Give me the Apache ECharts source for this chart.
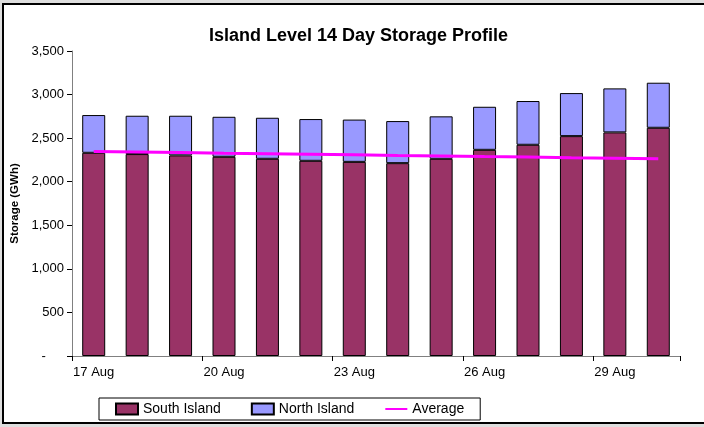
<!DOCTYPE html>
<html>
<head>
<meta charset="utf-8">
<script src="https://cdn.jsdelivr.net/npm/echarts@6/dist/echarts.min.js"></script>
<style>
  html, body { margin: 0; padding: 0; background: #dedede; }
  .frame {
    position: absolute; left: 2px; top: 3px; width: 730px; height: 417px;
    border: 2px solid #000; border-right: none; background: #fff;
  }
  #chart { position: absolute; left: 0; top: 0; width: 704px; height: 427px; }
</style>
</head>
<body>
<div class="frame"></div>
<div id="chart"></div>
<script>
// 14 day storage, GWh
var days = ['17 Aug', '18 Aug', '19 Aug', '20 Aug', '21 Aug', '22 Aug', '23 Aug',
  '24 Aug', '25 Aug', '26 Aug', '27 Aug', '28 Aug', '29 Aug', '30 Aug']
var southIsland = [2332, 2317, 2302, 2286, 2263, 2240, 2228, 2213, 2263, 2366, 2424, 2523, 2566, 2619]
var northIsland = [433, 440, 455, 459, 471, 479, 485, 483, 487, 494, 502, 494, 505, 517]
var average = [2348, 2341, 2335, 2328, 2322, 2315, 2309, 2302, 2296, 2289, 2283, 2276, 2270, 2263]

var chart = echarts.init(document.getElementById('chart'))

chart.setOption({
  animation: false,
  textStyle: { fontFamily: 'Liberation Sans, Arial, sans-serif' },
  title: {
    text: 'Island Level 14 Day Storage Profile',
    left: 204,
    top: 22,
    textStyle: { fontSize: 18, fontWeight: 'bold', color: '#000' }
  },
  grid: {
    left: 72,
    right: 24,
    top: 51,
    bottom: 71
  },
  legend: {
    data: [
      { name: 'South Island', icon: 'rect' },
      { name: 'North Island', icon: 'rect' },
      { name: 'Average', itemStyle: { opacity: 0 } }
    ],
    left: 99,
    top: 398,
    padding: [4, 16, 4, 16],
    itemGap: 30,
    itemWidth: 22,
    itemHeight: 11,
    borderColor: '#000',
    borderWidth: 1,
    textStyle: { fontSize: 14, color: '#000' }
  },
  xAxis: {
    type: 'category',
    data: days,
    axisLine: { lineStyle: { color: '#808080' } },
    axisTick: { show: true, alignWithLabel: false, interval: 2, length: 5, lineStyle: { color: '#000' } },
    axisLabel: { interval: 2, fontSize: 13, color: '#000', margin: 10 }
  },
  yAxis: {
    type: 'value',
    min: 0,
    max: 3500,
    interval: 500,
    name: 'Storage (GWh)',
    nameLocation: 'middle',
    nameGap: 48,
    nameTextStyle: { fontSize: 11.5, fontWeight: 'bold', color: '#000' },
    axisLine: { show: true, lineStyle: { color: '#808080' } },
    axisTick: { show: true, length: 5, lineStyle: { color: '#000' } },
    splitLine: { show: false },
    axisLabel: {
      fontSize: 13,
      color: '#000',
      margin: 8,
      formatter: function (v) {
        return v === 0 ? '-     ' : v.toLocaleString('en-US')
      }
    }
  },
  series: [{
    name: 'South Island',
    type: 'bar',
    stack: 'storage',
    barWidth: 23,
    itemStyle: { color: '#993366', borderColor: '#000', borderWidth: 1 },
    data: southIsland
  }, {
    name: 'North Island',
    type: 'bar',
    stack: 'storage',
    barWidth: 23,
    itemStyle: { color: '#9999FF', borderColor: '#000', borderWidth: 1 },
    data: northIsland
  }, {
    name: 'Average',
    type: 'line',
    symbol: 'none',
    z: 5,
    lineStyle: { color: '#FF00FF', width: 3 },
    itemStyle: { color: '#FF00FF' },
    data: average
  }]
})
</script>
</body>
</html>
